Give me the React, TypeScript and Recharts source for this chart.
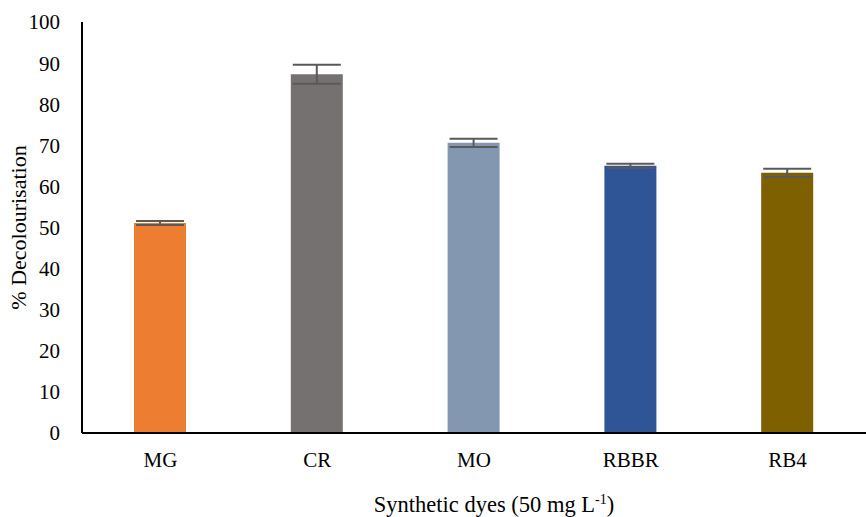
import { BarChart, Bar, XAxis, YAxis, ErrorBar, Cell } from "recharts";

const dyes = ["MG", "CR", "MO", "RBBR", "RB4"];
const decolourisation = [51.1, 87.3, 70.6, 65.0, 63.3];
const errors = [0.5, 2.3, 1.0, 0.5, 1.0];
const barColors = ["#ED7D31", "#767171", "#8497B0", "#2F5597", "#7F6000"];
const yTicks = [0, 10, 20, 30, 40, 50, 60, 70, 80, 90, 100];

const data = dyes.map((d, i) => ({ dye: d, value: decolourisation[i], err: errors[i] }));

const font = "'Liberation Serif', 'DejaVu Serif', serif";

const XTitle = (props: any) => {
  const vb = props.viewBox;
  return (
    <text x={vb.x + vb.width / 2 + 20} y={512} textAnchor="middle" fontFamily={font} fontSize={22.5} fill="#000">
      Synthetic dyes (50 mg L
      <tspan dy={-8} fontSize={14}>-1</tspan>
      <tspan dy={8}>)</tspan>
    </text>
  );
};

export default function App() {
  return (
    <div style={{ position: "absolute", left: 0, top: 0, background: "#fff" }}>
      <BarChart width={866} height={517} data={data} margin={{ top: 22, right: 0, bottom: 0, left: 0 }}>
        <XAxis
          dataKey="dye"
          height={84}
          tickLine={false}
          tickMargin={13}
          axisLine={{ stroke: "#000", strokeWidth: 2 }}
          tick={{ fontSize: 21, fill: "#000", fontFamily: font }}
          label={<XTitle />}
        />
        <YAxis
          width={82}
          domain={[0, 100]}
          ticks={yTicks}
          interval={0}
          tickLine={false}
          tickMargin={16}
          axisLine={{ stroke: "#000", strokeWidth: 2 }}
          tick={{ fontSize: 21, fill: "#000", fontFamily: font }}
          label={{
            value: "% Decolourisation",
            angle: -90,
            position: "insideLeft",
            offset: 18,
            style: { textAnchor: "middle", fontSize: 22, fill: "#000", fontFamily: font },
          }}
        />
        <Bar dataKey="value" barSize={52} isAnimationActive={false}>
          {data.map((d, i) => (
            <Cell key={d.dye} fill={barColors[i]} />
          ))}
          <ErrorBar dataKey="err" width={24} stroke="#595959" strokeWidth={2} />
        </Bar>
      </BarChart>
    </div>
  );
}
